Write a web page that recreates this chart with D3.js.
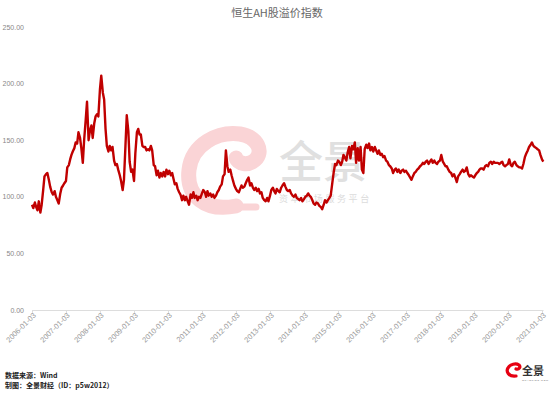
<!DOCTYPE html>
<html>
<head>
<meta charset="utf-8">
<script src="https://cdn.jsdelivr.net/npm/d3@7/dist/d3.min.js"></script>
<style>
  html, body { margin: 0; padding: 0; background: #fff; }
  svg { display: block; }
</style>
</head>
<body>
<div id="chart"></div>
<script>
// ---- data (semi-monthly readings, starting 2006-01) ----
const startYear = 2006;
const title = "恒生AH股溢价指数";
const yTicks = [0, 50, 100, 150, 200, 250];
const xTickLabels = ["2006-01-03","2007-01-03","2008-01-03","2009-01-03","2010-01-03","2011-01-03","2012-01-03","2013-01-03","2014-01-03","2015-01-03","2016-01-03","2017-01-03","2018-01-03","2019-01-03","2020-01-03","2021-01-03"];
const values2006 = [93,90,95,91,88,96,86,93,106,118,120,121,115,109,104,102,105,100,97,94,103,108,110,112];
const values2007 = [114,126,128,133,137,140,143,148,147,157,152,143,130,150,168,184,150,158,163,152,165,171,173,171];
const values2008 = [195,207,192,186,160,145,140,145,141,144,132,128,129,124,119,114,106,115,145,172,158,131,122,124];
const values2009 = [114,138,157,160,155,155,145,144,144,141,142,141,145,141,128,127,119,123,117,121,118,122,118,124];
const values2010 = [120,123,119,121,116,111,112,107,104,102,97,101,97,100,96,93,102,99,104,99,101,97,100,99];
const values2011 = [103,106,104,100,105,101,103,100,102,99,101,104,106,109,111,118,120,141,127,122,124,119,114,110];
const values2012 = [107,105,104,107,110,108,109,112,115,117,110,112,108,106,108,105,107,103,104,99,97,96,99,96];
const values2013 = [101,106,108,105,103,107,105,104,108,110,112,109,106,105,106,103,101,100,102,99,98,97,99,96];
const values2014 = [98,100,101,103,101,100,97,94,93,95,94,92,91,89,93,97,95,97,99,101,112,121,129,128];
const values2015 = [132,131,128,131,137,135,132,139,144,134,145,142,148,130,143,132,144,124,121,142,146,143,147,141];
const values2016 = [144,140,144,141,138,141,137,138,135,136,132,131,128,127,125,121,124,125,122,124,121,123,124,122];
const values2017 = [123,121,119,117,115,118,121,122,124,125,127,128,130,129,131,132,129,131,133,130,132,130,129,131];
const values2018 = [132,137,131,129,127,127,124,122,121,118,120,117,113,118,120,122,124,122,123,126,120,118,119,118];
const values2019 = [117,119,121,122,124,125,125,124,127,128,127,130,131,129,131,130,130,130,129,130,131,128,127,128];
const values2020 = [129,133,128,127,130,131,128,127,126,126,125,129,135,138,141,144,146,148,145,144,143,142,141,137];
const values2021 = [133,131];
const source1 = "数据来源：Wind";
const source2 = "制图：全景财经（ID：p5w2012）";

const allValues = [].concat(values2006, values2007, values2008, values2009, values2010, values2011,
  values2012, values2013, values2014, values2015, values2016, values2017, values2018, values2019,
  values2020, values2021);
const series = allValues.map((v, i) => ({
  date: new Date(startYear, Math.floor(i / 2), i % 2 ? 17 : 3),
  value: v
}));

// ---- layout ----
const W = 550, H = 393;
const svg = d3.select("#chart").append("svg").attr("width", W).attr("height", H);
const parse = d3.timeParse("%Y-%m-%d");
const x = d3.scaleTime()
  .domain([parse(xTickLabels[0]), parse(xTickLabels[xTickLabels.length - 1])])
  .range([32, 542]);
const y = d3.scaleLinear().domain([0, 250]).range([310, 27]);

// ---- watermark ----
const wm = svg.append("g");
wm.append("path")
  .attr("d", "M236 206 C 205 212, 186 196, 189 170 C 192 144, 218 131, 240 134 C 258 137, 264 152, 255 160 C 248 166, 238 164, 236 158")
  .attr("fill", "none").attr("stroke", "#fad4d6").attr("stroke-width", 15).attr("stroke-linecap", "round");
wm.append("path")
  .attr("d", "M214 207 L 256 207")
  .attr("fill", "none").attr("stroke", "#fad4d6").attr("stroke-width", 7).attr("stroke-linecap", "round");
wm.append("text").attr("x", 323).attr("y", 178).attr("text-anchor", "middle")
  .attr("font-family", "'Noto Sans CJK SC', sans-serif").attr("font-size", 44).attr("font-weight", 500)
  .attr("fill", "#e0e0e0").text("全景");
wm.append("text").attr("x", 279).attr("y", 202)
  .attr("font-family", "'Noto Sans CJK SC', sans-serif").attr("font-size", 9)
  .attr("letter-spacing", 2.6).attr("fill", "#dcdcdc").text("资本市场服务平台");

// ---- title ----
svg.append("text").attr("x", 277).attr("y", 17).attr("text-anchor", "middle")
  .attr("font-family", "'Noto Sans CJK SC', sans-serif").attr("font-size", 11)
  .attr("fill", "#666").text(title);

// ---- y axis labels ----
svg.append("g").selectAll("text").data(yTicks).join("text")
  .attr("x", 24).attr("y", d => y(d) + 2.5).attr("text-anchor", "end")
  .attr("font-family", "'Liberation Sans', Arial, sans-serif").attr("font-size", 7)
  .attr("fill", "#888").text(d => d3.format(".2f")(d));

// ---- x axis ----
const xAxis = d3.axisBottom(x)
  .tickValues(xTickLabels.map(parse))
  .tickSize(3)
  .tickFormat(d3.timeFormat("%Y-%m-%d"));
const gx = svg.append("g").attr("transform", "translate(0,310)").call(xAxis);
gx.select(".domain").attr("stroke", "#ddd").attr("d", "M32,0.5H543.5");
gx.selectAll(".tick line").attr("stroke", "#ddd");
gx.selectAll(".tick text")
  .attr("font-family", "'Liberation Sans', Arial, sans-serif").attr("font-size", 7.5)
  .attr("fill", "#999")
  .attr("text-anchor", "end")
  .attr("transform", "translate(2,4) rotate(-45)")
  .attr("dy", "0.35em").attr("y", 0).attr("x", 0);

// ---- line ----
const line = d3.line().x(d => x(d.date)).y(d => y(d.value));
svg.append("path").datum(series)
  .attr("fill", "none").attr("stroke", "#c00000").attr("stroke-width", 2.4)
  .attr("stroke-linejoin", "round").attr("d", line);

// ---- footer ----
svg.append("text").attr("x", 5).attr("y", 378)
  .attr("font-family", "'Noto Sans CJK SC', sans-serif").attr("font-size", 7).attr("font-weight", 700)
  .attr("fill", "#222").text(source1);
svg.append("text").attr("x", 5).attr("y", 388)
  .attr("font-family", "'Noto Sans CJK SC', sans-serif").attr("font-size", 7).attr("font-weight", 700)
  .attr("fill", "#222").text(source2);

// ---- bottom-right logo ----
const logo = svg.append("g");
logo.append("path")
  .attr("d", "M516 376 C 508 377, 506 371, 508 368 C 510 364, 516 363, 519 365 C 521 367, 519 370, 516 369")
  .attr("fill", "none").attr("stroke", "#e60012").attr("stroke-width", 3.2).attr("stroke-linecap", "round");
logo.append("text").attr("x", 522).attr("y", 375)
  .attr("font-family", "'Noto Sans CJK SC', sans-serif").attr("font-size", 11).attr("font-weight", 700)
  .attr("fill", "#333").text("全景");
logo.append("text").attr("x", 522).attr("y", 381)
  .attr("font-family", "'Liberation Sans', sans-serif").attr("font-size", 2.5)
  .attr("letter-spacing", 0.6).attr("fill", "#666").text("QUANJING.COM");
</script>
</body>
</html>
